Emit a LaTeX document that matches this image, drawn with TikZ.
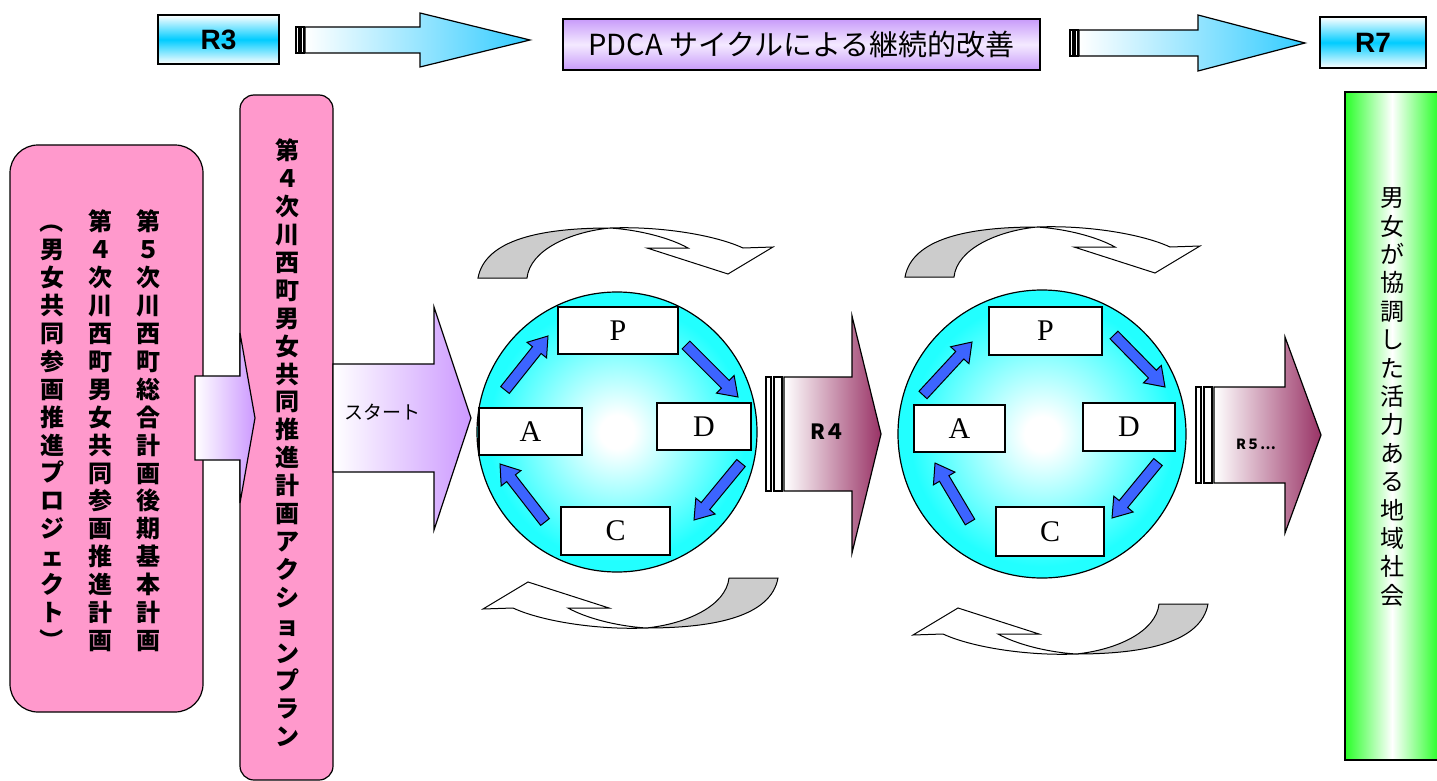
\documentclass[tikz,border=0pt]{standalone}
\usepackage{fontspec}
\setmainfont{Liberation Serif}
\newfontfamily\jpfont{Noto Sans CJK JP}
\newfontfamily\latinsans{Liberation Sans}
\usetikzlibrary{positioning}

\definecolor{planpink}{RGB}{255,153,204}
\definecolor{startlav}{RGB}{204,153,255}
\definecolor{flowcyan}{RGB}{51,204,255}
\definecolor{yearcyan}{RGB}{0,204,255}
\definecolor{pdcapurple}{RGB}{200,155,250}
\definecolor{pdcalight}{RGB}{244,234,255}
\definecolor{ballcyan}{RGB}{34,255,255}
\definecolor{pdcablue}{RGB}{60,100,255}
\definecolor{stepmaroon}{RGB}{153,51,102}
\definecolor{swirlgray}{RGB}{204,204,204}
\definecolor{goalgreen}{RGB}{40,255,40}

\pgfdeclareradialshading{ballshade}{\pgfpoint{0bp}{0bp}}{color(0bp)=(white); color(3bp)=(white); color(23bp)=(ballcyan); color(25bp)=(ballcyan); color(50bp)=(ballcyan)}

% vertical text: one character per line
\def\vstack#1{\vstackfirst#1\relax}
\def\vstackfirst#1{#1\vstacknext}
\def\vstacknext#1{\ifx\relax#1\else\\#1\expandafter\vstacknext\fi}
\newcommand\vlparen{\rotatebox[origin=c]{-90}{（}}
\newcommand\vrparen{\rotatebox[origin=c]{-90}{）}}

% blue arrow inside a cycle: tail x, tail y, tip x, tip y
\newcommand\pdcaarrow[4]{%
  \pgfmathsetmacro\arrang{atan2(#2-#4,#3-#1)}%
  \pgfmathsetmacro\arrlen{veclen(#3-#1,#4-#2)}%
  \begin{scope}[shift={(#1,#2)},rotate=\arrang]
    \draw[line width=1pt, fill=pdcablue] (0,-5.5) -- (\arrlen-18,-5.5) -- (\arrlen-18,-12.5)
      -- (\arrlen,0) -- (\arrlen-18,12.5) -- (\arrlen-18,5.5) -- (0,5.5) -- cycle;
  \end{scope}}

\tikzset{
  swirl/.pic={
    \draw[line width=1pt, fill=swirlgray] (-147,25) .. controls (-140,-13) and (-85,-25) .. (-15,-25)
      .. controls (-55,-21) and (-95,-3) .. (-98,25) -- cycle;
    \draw[line width=1pt, fill=white] (-15,-25) .. controls (35,-27) and (90,-18) .. (118,-5)
      -- (148,-6) -- (103,21) -- (22,-5) -- (63,-5)
      .. controls (45,-15) and (15,-23) .. (-15,-25) -- cycle;
  }
}

\begin{document}
\begin{tikzpicture}[x=1pt,y=-1pt,
    outline/.style={draw=black, line width=1.2pt},
    planbox/.style={outline, fill=planpink, inner sep=0pt},
    vtext/.style={align=center, inner sep=0pt,
        font=\jpfont\bfseries\fontsize{24}{27.9}\selectfont},
    yearbox/.style={outline, top color=white, bottom color=white, middle color=yearcyan,
        font=\latinsans\bfseries\fontsize{28}{28}\selectfont},
    stepbox/.style={outline, fill=white, inner sep=0pt,
        font=\fontsize{30}{30}\selectfont},
    ball/.style={circle, outline, inner sep=0pt, shading=ballshade},
    flowarrow/.style={outline, left color=white, right color=flowcyan},
    stagearrow/.style={outline, left color=white, right color=stepmaroon},
    bar/.style={draw=black, line width=1.2pt, fill=white}]

    \path[fill=white] (0,0) rectangle (1437,781);
    \useasboundingbox (0,0) rectangle (1437,781);

    % top row
    \node[yearbox, minimum width=121pt, minimum height=49pt] (r3) at (218.5,39.5) {R3};
    \node[outline, top color=pdcapurple, bottom color=pdcapurple, middle color=pdcalight,
        minimum width=477pt, minimum height=51pt,
        font=\jpfont\fontsize{29}{29}\selectfont] (pdca) at (801.5,44.5) {PDCA サイクルによる継続的改善};
    \node[yearbox, minimum width=106pt, minimum height=51pt] (r7) at (1373,42.5) {R7};

    \draw[bar] (296,27) rectangle (299,53);
    \draw[bar] (301,27) rectangle (304,53);
    \draw[flowarrow] (305,27) -- (420,27) -- (420,13) -- (530,40) -- (420,67) -- (420,53) -- (305,53) -- cycle;
    \draw[bar] (1070,30) rectangle (1073,56);
    \draw[bar] (1075,30) rectangle (1078,56);
    \draw[flowarrow] (1079,30) -- (1198,30) -- (1198,15) -- (1305,43) -- (1198,71) -- (1198,56) -- (1079,56) -- cycle;

    % plans
    \node[planbox, rounded corners=28pt, minimum width=193pt, minimum height=567pt] (plan) at (106.5,428.5) {};
    \node[vtext] (plan5) at (148,431) {\vstack{第５次川西町総合計画後期基本計画}};
    \node[vtext] (plan4) at (100,431) {\vstack{第４次川西町男女共同参画推進計画}};
    \node[vtext] (project) at (52,431) {\vstack{\vlparen 男女共同参画推進プロジェクト\vrparen}};

    \node[planbox, rounded corners=14pt, minimum width=93pt, minimum height=685pt] (action) at (286.5,437.5) {};
    \node[vtext] (actiontext) at (287,443) {\vstack{第４次川西町男女共同推進計画アクションプラン}};

    \draw[outline, left color=white, right color=startlav] (195,376) -- (240,376) -- (240,333) -- (255,418)
        -- (240,503) -- (240,460) -- (195,460) -- cycle;
    \draw[outline, left color=white, right color=startlav] (333,364) -- (434,364) -- (434,307) -- (471,418)
        -- (434,530) -- (434,472) -- (333,472) -- cycle;
    \node[font=\jpfont\fontsize{19}{19}\selectfont] (start) at (382,412) {スタート};

    % first cycle
    \node[ball, minimum size=280pt] (cycle1) at (617,432) {};
    \node[stepbox, minimum width=120pt, minimum height=47pt] (p1) at (618,330.5) {P};
    \node[stepbox, minimum width=94pt, minimum height=47pt] (d1) at (704,426.5) {D};
    \node[stepbox, minimum width=109pt, minimum height=48pt] (c1) at (615.5,531) {C};
    \node[stepbox, minimum width=103pt, minimum height=47pt] (a1) at (530.5,431.5) {A};
    \pdcaarrow{505}{390}{548}{336}
    \pdcaarrow{686}{345}{738}{397}
    \pdcaarrow{741}{463}{694}{520}
    \pdcaarrow{545}{522}{500}{464}
    \pic at (625,253) {swirl};
    \pic[rotate=180] at (631,603) {swirl};

    \draw[bar] (766,377) rectangle (771,491);
    \draw[bar] (774,377) rectangle (782,491);
    \draw[stagearrow] (784,377) -- (852,377) -- (852,316) -- (881,434) -- (852,553) -- (852,491) -- (784,491) -- cycle;
    \node[font=\jpfont\bfseries\fontsize{21}{21}\selectfont] (r4) at (828,432) {R４};

    % second cycle
    \node[ball, minimum size=288pt] (cycle2) at (1042,434) {};
    \node[stepbox, minimum width=113pt, minimum height=48pt] (p2) at (1045.5,331) {P};
    \node[stepbox, minimum width=92pt, minimum height=48pt] (d2) at (1129,427) {D};
    \node[stepbox, minimum width=108pt, minimum height=49pt] (c2) at (1050,531.5) {C};
    \node[stepbox, minimum width=91pt, minimum height=47pt] (a2) at (959.5,428.5) {A};
    \pdcaarrow{923}{395}{972}{342}
    \pdcaarrow{1114}{335}{1165}{387}
    \pdcaarrow{1158}{462}{1112}{518}
    \pdcaarrow{970}{522}{935}{463}
    \pic at (1052,252) {swirl};
    \pic[rotate=180] at (1061,629) {swirl};

    \draw[bar] (1196,387) rectangle (1201,483);
    \draw[bar] (1204,387) rectangle (1212,483);
    \draw[stagearrow] (1214,387) -- (1285,387) -- (1285,337) -- (1321,435) -- (1285,533) -- (1285,483) -- (1214,483) -- cycle;
    \node[font=\jpfont\bfseries\fontsize{14}{14}\selectfont] (r5) at (1256,444) {R５…};

    % goal
    \node[outline, left color=goalgreen, right color=goalgreen, middle color=white,
        minimum width=94pt, minimum height=668pt] (goal) at (1392,426) {};
    \node[align=center, inner sep=0pt, font=\jpfont\fontsize{24}{28.4}\selectfont] (goaltext) at (1392,397)
        {\vstack{男女が協調した活力ある地域社会}};
\end{tikzpicture}
\end{document}
